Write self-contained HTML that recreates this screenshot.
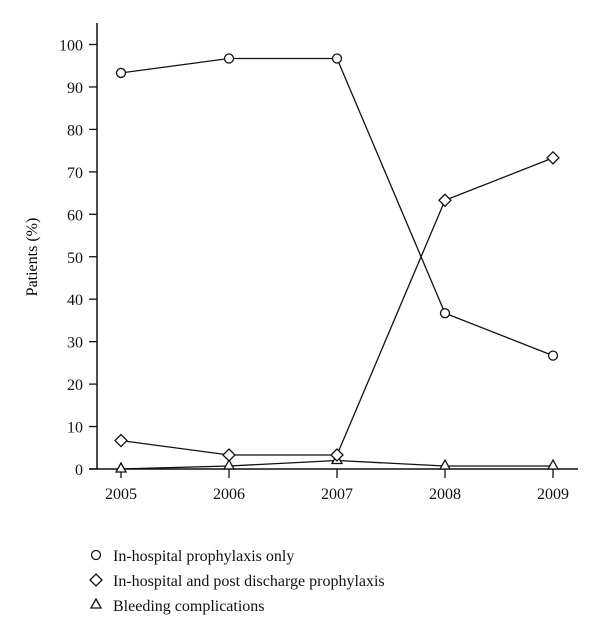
<!DOCTYPE html>
<html><head><meta charset="utf-8"><style>
body{margin:0;background:#fff;}
svg{display:block;font-family:"Liberation Serif",serif;}
</style></head><body>
<svg width="600" height="637" viewBox="0 0 600 637">
<g id="axes"></g><g id="series"></g>
<g font-size="16" fill="#111">
 <g><circle cx="96" cy="555" r="4.5" fill="none" stroke="#111" stroke-width="1.3"/><text x="113" y="561">In-hospital prophylaxis only</text></g>
 <g><polygon points="96,574 102,580 96,586 90,580" fill="none" stroke="#111" stroke-width="1.3"/><text x="113" y="586">In-hospital and post discharge prophylaxis</text></g>
 <g><polygon points="96,599 101,608 91,608" fill="none" stroke="#111" stroke-width="1.3"/><text x="113" y="611">Bleeding complications</text></g>
</g>
<text x="0" y="0" font-size="16" text-anchor="middle" transform="translate(37,257) rotate(-90)">Patients (%)</text>
</svg>
<script>
const years=["2005","2006","2007","2008","2009"];
const inHospital=[93.3,96.7,96.7,36.7,26.7];
const postDischarge=[6.7,3.3,3.3,63.3,73.3];
const bleeding=[0,0.7,2,0.7,0.7];
const yTicks=[0,10,20,30,40,50,60,70,80,90,100];
const NS="http://www.w3.org/2000/svg";
const xs=i=>121+i*108;
const ys=v=>469-v*4.245;
function mk(t,a,p){const e=document.createElementNS(NS,t);for(const k in a)e.setAttribute(k,a[k]);p.appendChild(e);return e;}
const ax=document.getElementById('axes');
let l=mk('line',{x1:97,y1:23,x2:97,y2:469,stroke:'#111','stroke-width':1.5},ax);


l=mk('line',{x1:89,y1:469,x2:578,y2:469,stroke:'#111','stroke-width':1.5},ax);


yTicks.forEach(v=>{
 const t=mk('line',{x1:89,y1:ys(v),x2:97,y2:ys(v),stroke:'#111','stroke-width':1.3},ax);
 
 
 const tx=mk('text',{x:83,y:ys(v)+6,'font-size':16,'text-anchor':'end',fill:'#111'},ax);
 tx.textContent=v;
 
 
});
years.forEach((y,i)=>{
 const t=mk('line',{x1:xs(i),y1:469,x2:xs(i),y2:478,stroke:'#111','stroke-width':1.3},ax);
 
 
 const tx=mk('text',{x:xs(i),y:499,'font-size':16,'text-anchor':'middle',fill:'#111'},ax);
 tx.textContent=y;
 
 
});
const sg=document.getElementById('series');
function series(vals,shape,name){
 const g=mk('g',{},sg);
 
 
 const pl=mk('polyline',{points:vals.map((v,i)=>xs(i)+','+ys(v)).join(' '),fill:'none',stroke:'#111','stroke-width':1.3},g);
 
 
 vals.forEach((v,i)=>{
  const x=xs(i),y=ys(v);let m;
  if(shape==='c')m=mk('circle',{cx:x,cy:y,r:4.5,fill:'#fff',stroke:'#111','stroke-width':1.3},g);
  else if(shape==='d')m=mk('polygon',{points:`${x},${y-6} ${x+6},${y} ${x},${y+6} ${x-6},${y}`,fill:'#fff',stroke:'#111','stroke-width':1.3},g);
  else m=mk('polygon',{points:`${x},${y-6} ${x+5},${y+3} ${x-5},${y+3}`,fill:'#fff',stroke:'#111','stroke-width':1.3},g);
  
  
 });
}
series(bleeding,'t','bleeding-series');
series(postDischarge,'d','post-discharge-series');
series(inHospital,'c','in-hospital-series');
</script>
</body></html>
